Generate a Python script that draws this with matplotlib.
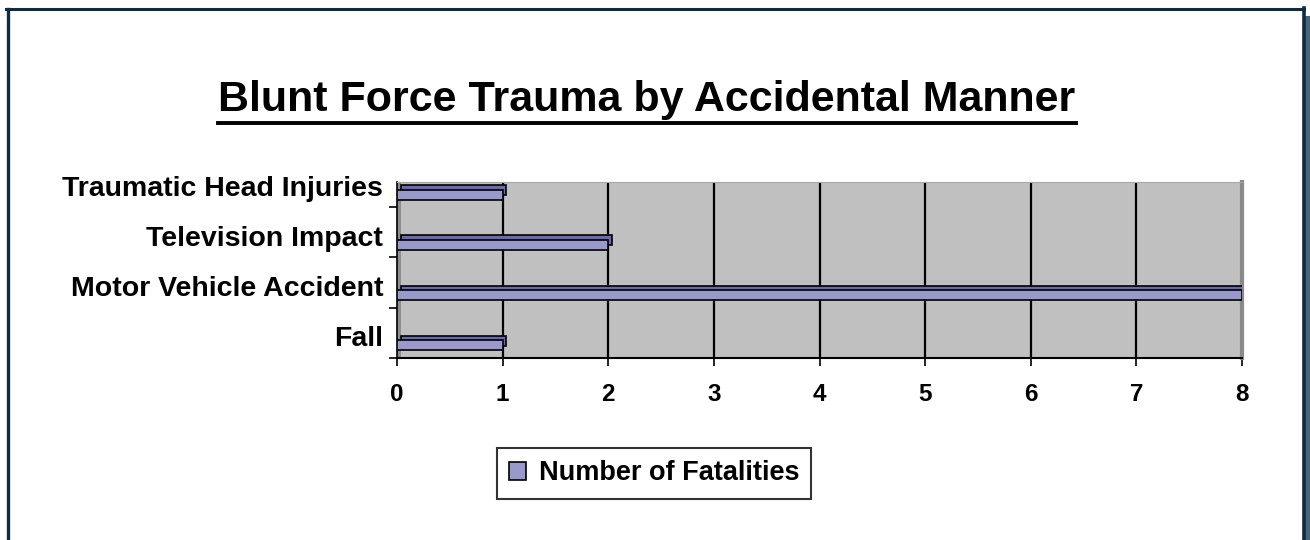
import matplotlib
matplotlib.use("Agg")
import matplotlib.pyplot as plt
from matplotlib.patches import Rectangle
from matplotlib.lines import Line2D
import matplotlib.transforms as mtransforms

categories = ["Fall", "Motor Vehicle Accident", "Television Impact", "Traumatic Head Injuries"]
values = [1, 8, 2, 1]
xticks = [0, 1, 2, 3, 4, 5, 6, 7, 8]
series_name = "Number of Fatalities"
title = "Blunt Force Trauma by Accidental Manner"

W, H = 1310, 540
fig = plt.figure(figsize=(W / 100, H / 100), dpi=100)
plt.rcParams['font.family'] = ['Liberation Sans', 'DejaVu Sans']

# figure border
border_col = "#0f2b3d"
fig.add_artist(Line2D([7.5 / W, 7.5 / W], [0, 1 - 9 / H], transform=fig.transFigure, color=border_col, lw=2.4))
fig.add_artist(Line2D([6 / W, 1304 / W], [1 - 9 / H, 1 - 9 / H], transform=fig.transFigure, color=border_col, lw=2.2))
fig.add_artist(Line2D([1303.5 / W, 1303.5 / W], [0, 1 - 8 / H], transform=fig.transFigure, color=border_col, lw=2.6))
fig.add_artist(Rectangle((1305 / W, 0), 5 / W, 1 - 16 / H, transform=fig.transFigure, color="#4a6676", lw=0))

ax = fig.add_axes([397 / W, 1 - 358 / H, (1242 - 397) / W, (358 - 182) / H])
ax.set_facecolor("#c0c0c0")

y = list(range(len(categories)))
bar_h = 0.2
# depth (back) face, offset up-right
off = mtransforms.ScaledTranslation(3.5 / 100, 4.5 / 100, fig.dpi_scale_trans)
back = ax.barh(y, values, height=bar_h, color="#6a6aae", edgecolor="black", lw=1.2, zorder=3)
for p in back:
    p.set_transform(ax.transData + off)
ax.barh(y, values, height=bar_h, color="#9999cc", edgecolor="black", lw=1.2, zorder=4)

ax.set_xlim(0, 8)
ax.set_ylim(-0.25, 3.25)
ax.set_xticks(xticks)
ax.set_xticklabels([str(t) for t in xticks], fontsize=17.5, fontweight="bold")
ax.tick_params(axis="x", length=6, width=1.2, color="black", pad=12)
ax.set_yticks(y)
ax.set_yticklabels(categories, fontsize=20.5, fontweight="bold")
ax.tick_params(axis="y", which="major", length=0, pad=10)
lab_off = mtransforms.ScaledTranslation(0, 9 / 100, fig.dpi_scale_trans)
for lab in ax.get_yticklabels():
    lab.set_transform(lab.get_transform() + lab_off)
ax.set_yticks([-0.25, 0.75, 1.75, 2.75], minor=True)
ax.tick_params(axis="y", which="minor", length=6, width=1.2, color="black")

for xv in xticks[1:-1]:
    ax.axvline(xv, color="black", lw=1.6, zorder=1)

ax.spines["left"].set_color("black")
ax.spines["left"].set_linewidth(1.2)
ax.spines["bottom"].set_color("black")
ax.spines["bottom"].set_linewidth(1.5)
ax.spines["right"].set_color("#8a8a8a")
ax.spines["right"].set_linewidth(3)
ax.spines["top"].set_color("#a8a8a8")
ax.spines["top"].set_linewidth(0.8)
ax.add_patch(Rectangle((0, 0), 0.005, 1, transform=ax.transAxes, color="#8e8e8e", lw=0, zorder=2))

t = fig.text(647 / W, 1 - 111 / H, title, ha="center", va="baseline", fontsize=31, fontweight="bold")

leg = fig.legend([Rectangle((0, 0), 1, 1, facecolor="#9999cc", edgecolor="black", lw=1.2)], [series_name],
                 loc="center", bbox_to_anchor=(654 / W, 1 - 473.5 / H), frameon=True, fancybox=False,
                 prop={"size": 19.5, "weight": "bold"}, handlelength=0.65, handleheight=0.65,
                 handletextpad=0.45, borderpad=0.45, borderaxespad=0)
leg.get_frame().set_edgecolor("black")
leg.get_frame().set_linewidth(1.5)

fig.canvas.draw()
bb = t.get_window_extent(fig.canvas.get_renderer())
fig.add_artist(Line2D([bb.x0 / W, bb.x1 / W], [1 - 122.5 / H, 1 - 122.5 / H], transform=fig.transFigure,
                      color="black", lw=2.8))

fig.savefig("out.png", dpi=100)
